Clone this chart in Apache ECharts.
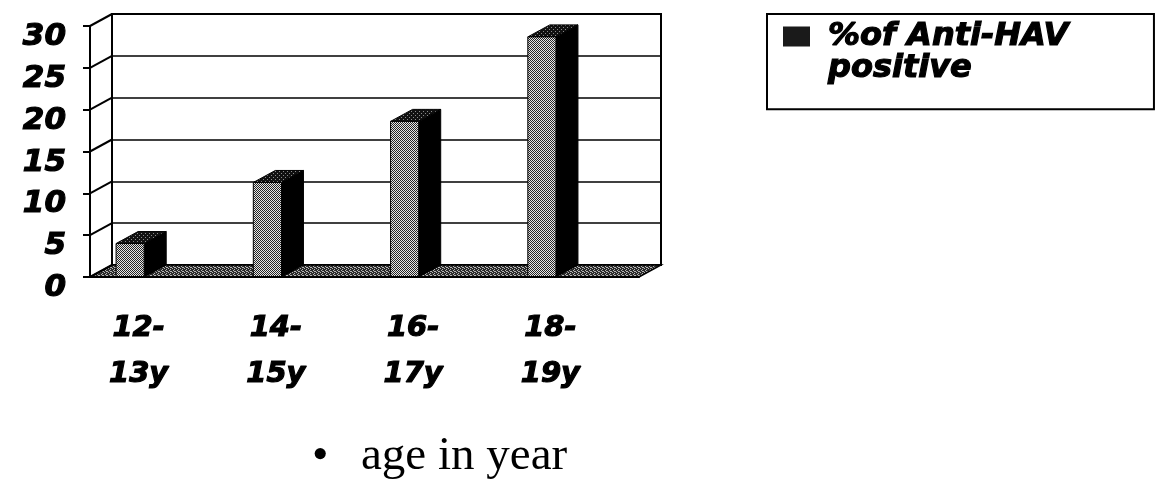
<!DOCTYPE html>
<html>
    <head>
        <meta charset="utf-8">
        <title>Anti-HAV</title>
        <script src="https://cdn.jsdelivr.net/npm/echarts@6/dist/echarts.min.js"></script>
    </head>
    <body style="margin:0; background:#fff;">
        <div id="main" style="width:1173px; height:495px;"></div>
        <script type="text/javascript">
            var categories = ['12-\n13y', '14-\n15y', '16-\n17y', '18-\n19y']
            var positive = [4, 11.3, 18.6, 28.7]
            var yTicks = [0, 5, 10, 15, 20, 25, 30]
            var seriesName = '%of Anti-HAV\npositive'

            // depth of the fake 3d box, in pixels
            var DX = 22
            var DY = -12

            var pattern = function(bg, fg, dots) {
                var c = document.createElement('canvas')
                c.width = 4
                c.height = 4
                var ctx = c.getContext('2d')
                ctx.fillStyle = bg
                ctx.fillRect(0, 0, 4, 4)
                ctx.fillStyle = fg
                for (var i = 0; i < dots.length; i++) {
                    ctx.fillRect(dots[i][0], dots[i][1], 1, 1)
                }
                return {image: c, repeat: 'repeat'}
            }
            var frontFill = pattern('#e6e6e6', '#262626', [[0,0],[2,0],[1,1],[3,1],[0,2],[2,2],[1,3],[3,3]])
            var topFill = pattern('#111', '#8a8a8a', [[1,1],[3,3]])
            var floorFill = pattern('#2a2a2a', '#b5b5b5', [[0,0],[2,1],[1,2],[3,3],[2,3]])

            // heavy oblique look: bold italic plus a thin outline
            var font = {
                fontFamily: 'DejaVu Sans',
                fontWeight: 'bold',
                fontStyle: 'italic',
                color: '#000',
                textBorderColor: '#000',
                textBorderWidth: 1.2
            }

            var renderBar = function(params, api) {
                var c = api.coord([api.value(0), api.value(1)])
                var b = api.coord([api.value(0), 0])
                var band = api.size([1, 0])[0]
                var x0 = c[0] - band * 0.31
                var w = band * 0.205
                var yt = c[1]
                var yb = b[1]
                return {
                    type: 'group',
                    children: [
                        {type: 'polygon', shape: {points: [[x0 + w, yt], [x0 + w + DX, yt + DY], [x0 + w + DX, yb + DY], [x0 + w, yb]]},
                            style: {fill: '#000', stroke: '#000'}},
                        {type: 'polygon', shape: {points: [[x0, yt], [x0 + w, yt], [x0 + w + DX, yt + DY], [x0 + DX, yt + DY]]},
                            style: {fill: topFill, stroke: '#000', lineWidth: 1}},
                        {type: 'rect', shape: {x: x0, y: yt, width: w, height: yb - yt},
                            style: {fill: frontFill, stroke: '#000', lineWidth: 1}}
                    ]
                }
            }

            var renderFloor = function(params, api) {
                var band = api.size([1, 0])[0]
                var l = api.coord([0, 0])
                var r = api.coord([categories.length - 1, 0])
                var xl = l[0] - band / 2
                var xr = r[0] + band / 2
                var y = l[1]
                return {
                    type: 'polygon',
                    shape: {points: [[xl, y], [xr, y], [xr + DX, y + DY], [xl + DX, y + DY]]},
                    style: {fill: floorFill, stroke: '#000', lineWidth: 1.5}
                }
            }

            var renderSide = function(params, api) {
                var band = api.size([1, 0])[0]
                var p = api.coord([0, api.value(0)])
                var x = p[0] - band / 2
                return {
                    type: 'line',
                    shape: {x1: x, y1: p[1], x2: x + DX, y2: p[1] + DY},
                    style: {stroke: '#000', lineWidth: 2}
                }
            }

            var myChart = echarts.init(document.querySelector('#main'))
            var option = {
                animation: false,
                title: [
                    {text: '•', left: 307, top: 428,
                        textStyle: {fontFamily: 'Liberation Serif', fontSize: 47, fontWeight: 'normal', color: '#000'}},
                    {text: 'age in year', left: 356, top: 428,
                        textStyle: {fontFamily: 'Liberation Serif', fontSize: 47, fontWeight: 'normal', color: '#000'}}
                ],
                legend: {
                    data: [seriesName],
                    left: 767,
                    top: 14,
                    padding: [6, 85, 24, 16],
                    borderColor: '#000',
                    borderWidth: 2,
                    itemWidth: 27,
                    itemHeight: 64,
                    icon: 'path://M0 6h27v20h-27zM0 0L0 0M0 64L0 64',
                    textStyle: Object.assign({fontSize: 32, lineHeight: 32, padding: [0, 0, 0, 13]}, font)
                },
                grid: [
                    {left: 90, top: 26, width: 549, height: 251},
                    {left: 112, top: 14, width: 549, height: 251, show: true, borderColor: '#000', borderWidth: 2}
                ],
                xAxis: [
                    {
                        type: 'category',
                        gridIndex: 0,
                        data: categories,
                        z: 10,
                        axisLine: {lineStyle: {color: '#000', width: 2}},
                        axisTick: {length: 8, lineStyle: {color: '#000', width: 2}},
                        axisLabel: Object.assign({fontSize: 29, lineHeight: 46, margin: 28, padding: [0, 40, 0, 0]}, font),
                        splitLine: {show: false}
                    },
                    {
                        type: 'category',
                        gridIndex: 1,
                        data: categories,
                        show: false
                    }
                ],
                yAxis: [
                    {
                        type: 'value',
                        gridIndex: 0,
                        min: 0,
                        max: 30,
                        interval: 5,
                        z: 10,
                        axisLine: {show: true, lineStyle: {color: '#000', width: 2}},
                        axisTick: {show: true, length: 7, lineStyle: {color: '#000', width: 2}},
                        axisLabel: Object.assign({fontSize: 31, margin: 24, verticalAlign: 'top', lineHeight: 22}, font),
                        splitLine: {show: false}
                    },
                    {
                        type: 'value',
                        gridIndex: 1,
                        min: 0,
                        max: 30,
                        interval: 5,
                        axisLine: {show: false},
                        axisTick: {show: false},
                        axisLabel: {show: false},
                        splitLine: {show: true, lineStyle: {color: '#000', width: 1.5}}
                    }
                ],
                series: [
                    {
                        type: 'custom',
                        name: 'floor',
                        xAxisIndex: 0,
                        yAxisIndex: 0,
                        z: 3,
                        renderItem: renderFloor,
                        data: [[0]],
                        silent: true
                    },
                    {
                        type: 'custom',
                        name: 'side',
                        xAxisIndex: 0,
                        yAxisIndex: 0,
                        z: 3,
                        renderItem: renderSide,
                        data: yTicks.map(function(v) { return [v] }),
                        silent: true
                    },
                    {
                        type: 'custom',
                        name: seriesName,
                        xAxisIndex: 0,
                        yAxisIndex: 0,
                        z: 4,
                        itemStyle: {color: '#1a1a1a'},
                        renderItem: renderBar,
                        encode: {x: 0, y: 1},
                        data: positive.map(function(v, i) { return [i, v] })
                    }
                ]
            }
            myChart.setOption(option)
        </script>
    </body>
</html>
